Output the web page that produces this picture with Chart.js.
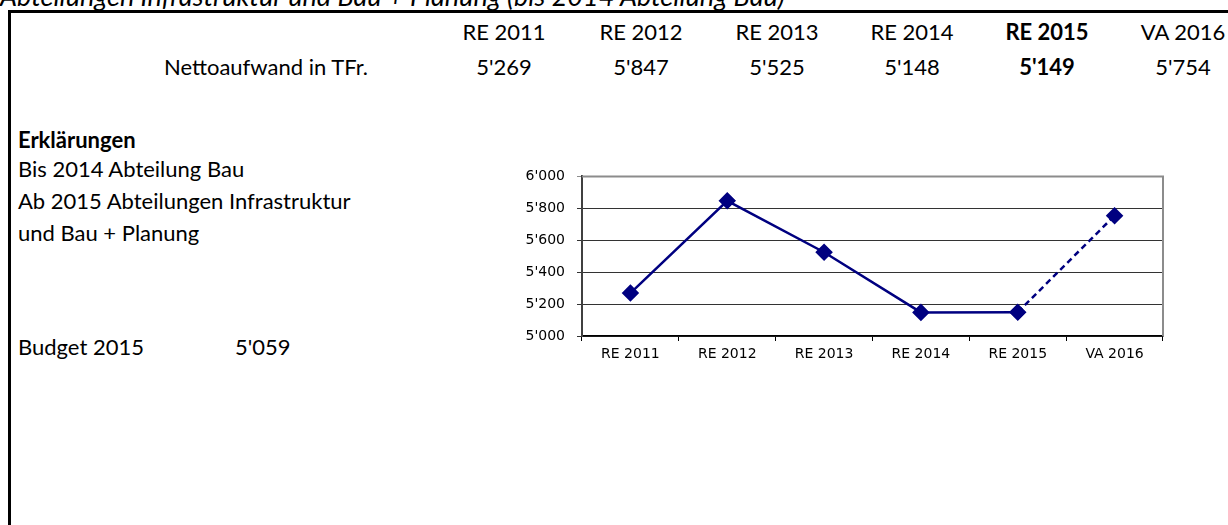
<!DOCTYPE html>
<html>
<head>
<meta charset="utf-8">
<script src="https://cdn.jsdelivr.net/npm/chart.js@4"></script>
<style>
  body { margin: 0; background: #fff; width: 1228px; height: 525px; overflow: hidden; position: relative; font-family: Lato, "Open Sans", sans-serif; color: #000; }
  .t { position: absolute; white-space: nowrap; font-size: 22px; line-height: 22px; }
  .c { text-align: center; width: 120px; }
  .b { font-weight: bold; }
  #frame { position: absolute; left: 8px; top: 10px; width: 1300px; height: 600px; border-top: 3px solid #000; border-left: 3px solid #000; }
  #title { position: absolute; left: 0; top: -18px; font-size: 27px; line-height: 27px; font-style: italic; white-space: nowrap; }
  #chartBox { position: absolute; left: 500px; top: 156px; width: 680px; height: 224px; }
</style>
</head>
<body>
<div id="title">Abteilungen Infrastruktur und Bau + Planung (bis 2014 Abteilung Bau)</div>
<div id="frame"></div>
<div id="table"></div>
<div class="t" style="left:0; width:368px; text-align:right; top:56px;">Nettoaufwand in TFr.</div>
<div class="t b" style="left:18px; top:129px;">Erklärungen</div>
<div class="t" style="left:18px; top:158px;">Bis 2014 Abteilung Bau</div>
<div class="t" style="left:18px; top:190px;">Ab 2015 Abteilungen Infrastruktur</div>
<div class="t" style="left:18px; top:222px;">und Bau + Planung</div>
<div class="t" style="left:18px; top:336px;">Budget 2015</div>
<div class="t" id="budget" style="left:235px; top:336px;"></div>
<div id="chartBox"><canvas id="lineChart" width="680" height="224"></canvas></div>

<script>
// Chart data
const categories = ['RE 2011', 'RE 2012', 'RE 2013', 'RE 2014', 'RE 2015', 'VA 2016'];
const netExpense = [5269, 5847, 5525, 5148, 5149, 5754];
const budget2015 = 5059;
const yTicks = [5000, 5200, 5400, 5600, 5800, 6000];
const boldColumn = 'RE 2015';

// column centres of the table above the chart
const columnCenters = [504, 641, 777, 912, 1047, 1183];

function formatCH(v) {
  const s = String(Math.round(v));
  return s.length > 3 ? s.slice(0, -3) + "'" + s.slice(-3) : s;
}

document.addEventListener('DOMContentLoaded', function() {
  // Build table header + value row
  const table = document.getElementById('table');
  table.innerHTML = categories.map((cat, i) => {
    const bold = cat === boldColumn ? ' b' : '';
    const left = columnCenters[i] - 60;
    return `
      <div class="t c${bold}" style="left:${left}px; top:21px;">${cat}</div>
      <div class="t c${bold}" style="left:${left}px; top:56px;">${formatCH(netExpense[i])}</div>
    `;
  }).join('');
  document.getElementById('budget').textContent = formatCH(budget2015);

  createLineChart();
});

/**
 * Line chart with diamonds, last segment dashed (Voranschlag)
 */
function createLineChart() {
  const ctx = document.getElementById('lineChart');
  const navy = '#000080';

  // gray border on top and right of the plot area
  const plotBorder = {
    id: 'plotBorder',
    beforeDatasetsDraw(chart) {
      const a = chart.chartArea;
      const c = chart.ctx;
      c.save();
      c.strokeStyle = '#8c8c8c';
      c.lineWidth = 2;
      c.beginPath();
      c.moveTo(a.left, a.top);
      c.lineTo(a.right, a.top);
      c.lineTo(a.right, a.bottom);
      c.stroke();
      c.restore();
    }
  };

  new Chart(ctx, {
    type: 'line',
    data: {
      labels: categories,
      datasets: [{
        data: netExpense,
        borderColor: navy,
        backgroundColor: navy,
        borderWidth: 2.5,
        pointStyle: 'rectRot',
        pointRadius: 7,
        pointHoverRadius: 7,
        pointBackgroundColor: navy,
        pointBorderColor: navy,
        tension: 0,
        segment: {
          borderDash: c => c.p1DataIndex === categories.length - 1 ? [6, 4] : undefined
        }
      }]
    },
    options: {
      responsive: false,
      animation: false,
      devicePixelRatio: 1,
      layout: { padding: { top: 2, right: 17, left: 0, bottom: 0 } },
      plugins: {
        legend: { display: false },
        tooltip: { enabled: false }
      },
      scales: {
        x: {
          offset: true,
          grid: {
            offset: true,
            drawOnChartArea: false,
            tickLength: 5,
            color: '#000'
          },
          border: { color: '#000', width: 1.5 },
          ticks: {
            color: '#000',
            padding: 5,
            font: { family: 'DejaVu Sans', size: 14 }
          },
          afterFit: s => { s.height = 44; }
        },
        y: {
          min: yTicks[0],
          max: yTicks[yTicks.length - 1],
          afterBuildTicks: s => { s.ticks = yTicks.map(v => ({ value: v })); },
          grid: {
            tickLength: 5,
            color: c => c.tick && c.tick.value === 6000 ? '#8c8c8c' : '#333'
          },
          border: { color: '#404040', width: 2 },
          ticks: {
            color: '#000',
            padding: 12,
            font: { family: 'DejaVu Sans', size: 14 },
            callback: v => formatCH(v)
          },
          afterFit: s => { s.width = 82; }
        }
      }
    },
    plugins: [plotBorder]
  });
}
</script>
</body>
</html>
